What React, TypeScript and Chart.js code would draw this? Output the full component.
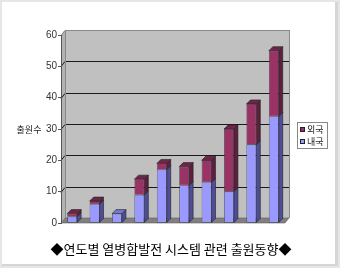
import React, { useEffect, useRef } from 'react';
import { Chart, registerables } from 'chart.js';

Chart.register(...registerables);

const years = ['1995', '1996', '1997', '1998', '1999', '2000', '2001', '2002', '2003', '2004'];
const domestic = [2, 6, 3, 9, 17, 12, 13, 10, 25, 34];
const foreign = [1, 1, 0, 5, 2, 6, 7, 20, 13, 21];
const yTicks = [0, 10, 20, 30, 40, 50, 60];
const domesticName = '내국';
const foreignName = '외국';
const yAxisTitle = '출원수';
const titleText = '◆연도별 열병합발전 시스템 관련 출원동향◆';

const W = 340;
const H = 268;
const DX = 4;
const DY = 5;
const BDX = 4;
const BDY = 4;

const colors = {
  domFront: '#9999FF',
  domSide: '#4d4d99',
  domTop: '#7777cc',
  forFront: '#993366',
  forSide: '#5c1f3d',
  forTop: '#6e2549',
};

function poly(ctx: CanvasRenderingContext2D, pts: number[][], fill: string, stroke?: string) {
  ctx.beginPath();
  ctx.moveTo(pts[0][0], pts[0][1]);
  for (let i = 1; i < pts.length; i++) ctx.lineTo(pts[i][0], pts[i][1]);
  ctx.closePath();
  ctx.fillStyle = fill;
  ctx.fill();
  if (stroke) {
    ctx.strokeStyle = stroke;
    ctx.lineWidth = 0.6;
    ctx.stroke();
  }
}

const deco = {
  id: 'deco',
  beforeDraw(chart: any) {
    const ctx: CanvasRenderingContext2D = chart.ctx;
    const { left: L, right: R, top: T, bottom: B } = chart.chartArea;
    const y = chart.scales.y;
    ctx.save();
    // frame
    ctx.fillStyle = '#e6e6e6';
    ctx.fillRect(0, 0, W, H);
    ctx.fillStyle = '#d6d6d6';
    ctx.fillRect(2, 2, W - 4, H - 4);
    ctx.fillStyle = '#ffffff';
    ctx.fillRect(2, 2, W - 7, H - 6);
    // back wall
    const bt = y.getPixelForValue(60) - DY;
    const bb = y.getPixelForValue(0) - DY;
    ctx.fillStyle = '#c0c0c0';
    ctx.fillRect(L + DX, bt, R - L, bb - bt);
    // side wall
    poly(ctx, [[L, B], [L, T], [L + DX, T - DY], [L + DX, B - DY]], '#b2b2b2');
    // gridlines
    ctx.lineWidth = 1;
    for (const v of yTicks) {
      const yp = Math.round(y.getPixelForValue(v)) + 0.5;
      ctx.strokeStyle = v === 60 ? '#8a8a8a' : '#1a1a1a';
      if (v === 0) continue;
      ctx.beginPath();
      ctx.moveTo(L, yp);
      ctx.lineTo(L + DX, yp - DY);
      ctx.lineTo(R + DX, yp - DY);
      ctx.stroke();
    }
    // wall outlines
    ctx.strokeStyle = '#8a8a8a';
    ctx.beginPath();
    ctx.moveTo(L + DX + 0.5, bb);
    ctx.lineTo(L + DX + 0.5, bt);
    ctx.moveTo(R + DX + 0.5, bt);
    ctx.lineTo(R + DX + 0.5, bb);
    ctx.stroke();
    // floor
    poly(ctx, [[L, B], [R, B], [R + DX, B - DY], [L + DX, B - DY]], '#808080', '#606060');
    ctx.restore();
  },
  afterDatasetsDraw(chart: any) {
    const ctx: CanvasRenderingContext2D = chart.ctx;
    const mD = chart.getDatasetMeta(0);
    const mF = chart.getDatasetMeta(1);
    ctx.save();
    for (let i = 0; i < years.length; i++) {
      const segs = [
        { el: mD.data[i], v: domestic[i], side: colors.domSide, top: colors.domTop },
        { el: mF.data[i], v: foreign[i], side: colors.forSide, top: colors.forTop },
      ].filter((s) => s.v > 0);
      segs.forEach((s, k) => {
        const p = s.el.getProps(['x', 'y', 'base', 'width'], true);
        const l = p.x - p.width / 2;
        const r = p.x + p.width / 2;
        poly(ctx, [[r, p.y], [r + BDX, p.y - BDY], [r + BDX, p.base - BDY], [r, p.base]], s.side, '#222');
        if (k === segs.length - 1) {
          poly(ctx, [[l, p.y], [l + BDX, p.y - BDY], [r + BDX, p.y - BDY], [r, p.y]], s.top, '#222');
        }
      });
    }
    ctx.restore();
  },
  afterDraw(chart: any) {
    const ctx: CanvasRenderingContext2D = chart.ctx;
    ctx.save();
    // y axis title
    ctx.fillStyle = '#222';
    ctx.font = '9px "Noto Sans CJK KR"';
    ctx.textAlign = 'center';
    ctx.textBaseline = 'middle';
    ctx.fillText(yAxisTitle, 29, 130);
    // legend
    ctx.fillStyle = '#ffffff';
    ctx.fillRect(297, 122, 30, 26);
    ctx.strokeStyle = '#888';
    ctx.lineWidth = 1;
    ctx.strokeRect(297.5, 122.5, 30, 26);
    ctx.fillStyle = colors.forFront;
    ctx.fillRect(300, 127, 5, 5);
    ctx.strokeStyle = '#222';
    ctx.strokeRect(300.5, 127.5, 4, 4);
    ctx.fillStyle = colors.domFront;
    ctx.fillRect(300, 139, 5, 5);
    ctx.strokeRect(300.5, 139.5, 4, 4);
    ctx.fillStyle = '#222';
    ctx.textAlign = 'left';
    ctx.font = '9px "Noto Sans CJK KR"';
    ctx.fillText(foreignName, 307, 129.5);
    ctx.fillText(domesticName, 307, 141.5);
    // title
    ctx.fillStyle = '#000';
    ctx.textAlign = 'center';
    ctx.font = '13px "Noto Sans CJK KR"';
    ctx.fillText(titleText, 171, 249);
    ctx.restore();
  },
};

export default function App() {
  const ref = useRef<HTMLCanvasElement | null>(null);
  useEffect(() => {
    document.body.style.margin = '0';
    const canvas = ref.current;
    if (!canvas) return;
    const chart = new Chart(canvas, {
      type: 'bar',
      data: {
        labels: years,
        datasets: [
          {
            label: domesticName,
            data: domestic,
            backgroundColor: colors.domFront,
            borderColor: '#222',
            borderWidth: 0.6,
            borderSkipped: false,
            barPercentage: 0.44,
            categoryPercentage: 1,
          },
          {
            label: foreignName,
            data: foreign,
            backgroundColor: colors.forFront,
            borderColor: '#222',
            borderWidth: 0.6,
            borderSkipped: false,
            barPercentage: 0.44,
            categoryPercentage: 1,
          },
        ],
      },
      options: {
        responsive: false,
        animation: false,
        devicePixelRatio: 1,
        layout: { padding: { left: 31, right: 55, top: 35, bottom: 31 } },
        plugins: { legend: { display: false }, tooltip: { enabled: false }, title: { display: false } },
        scales: {
          x: {
            stacked: true,
            grid: { display: false },
            border: { display: false },
            ticks: { font: { family: 'Liberation Sans', size: 9.5 }, color: '#333', padding: 4, maxRotation: 0, autoSkip: false },
            afterFit: (s: any) => {
              s.height = 14;
            },
          },
          y: {
            stacked: true,
            min: 0,
            max: 60,
            grid: { drawOnChartArea: false, drawTicks: true, tickLength: 3, color: '#555' },
            border: { display: true, color: '#555' },
            ticks: { stepSize: 10, font: { family: 'Liberation Sans', size: 10 }, color: '#333', padding: 1 },
            afterFit: (s: any) => {
              s.width = 30;
            },
          },
        },
      },
      plugins: [deco],
    });
    return () => chart.destroy();
  }, []);
  return <canvas ref={ref} width={W} height={H} style={{ display: 'block', width: W, height: H }} />;
}
